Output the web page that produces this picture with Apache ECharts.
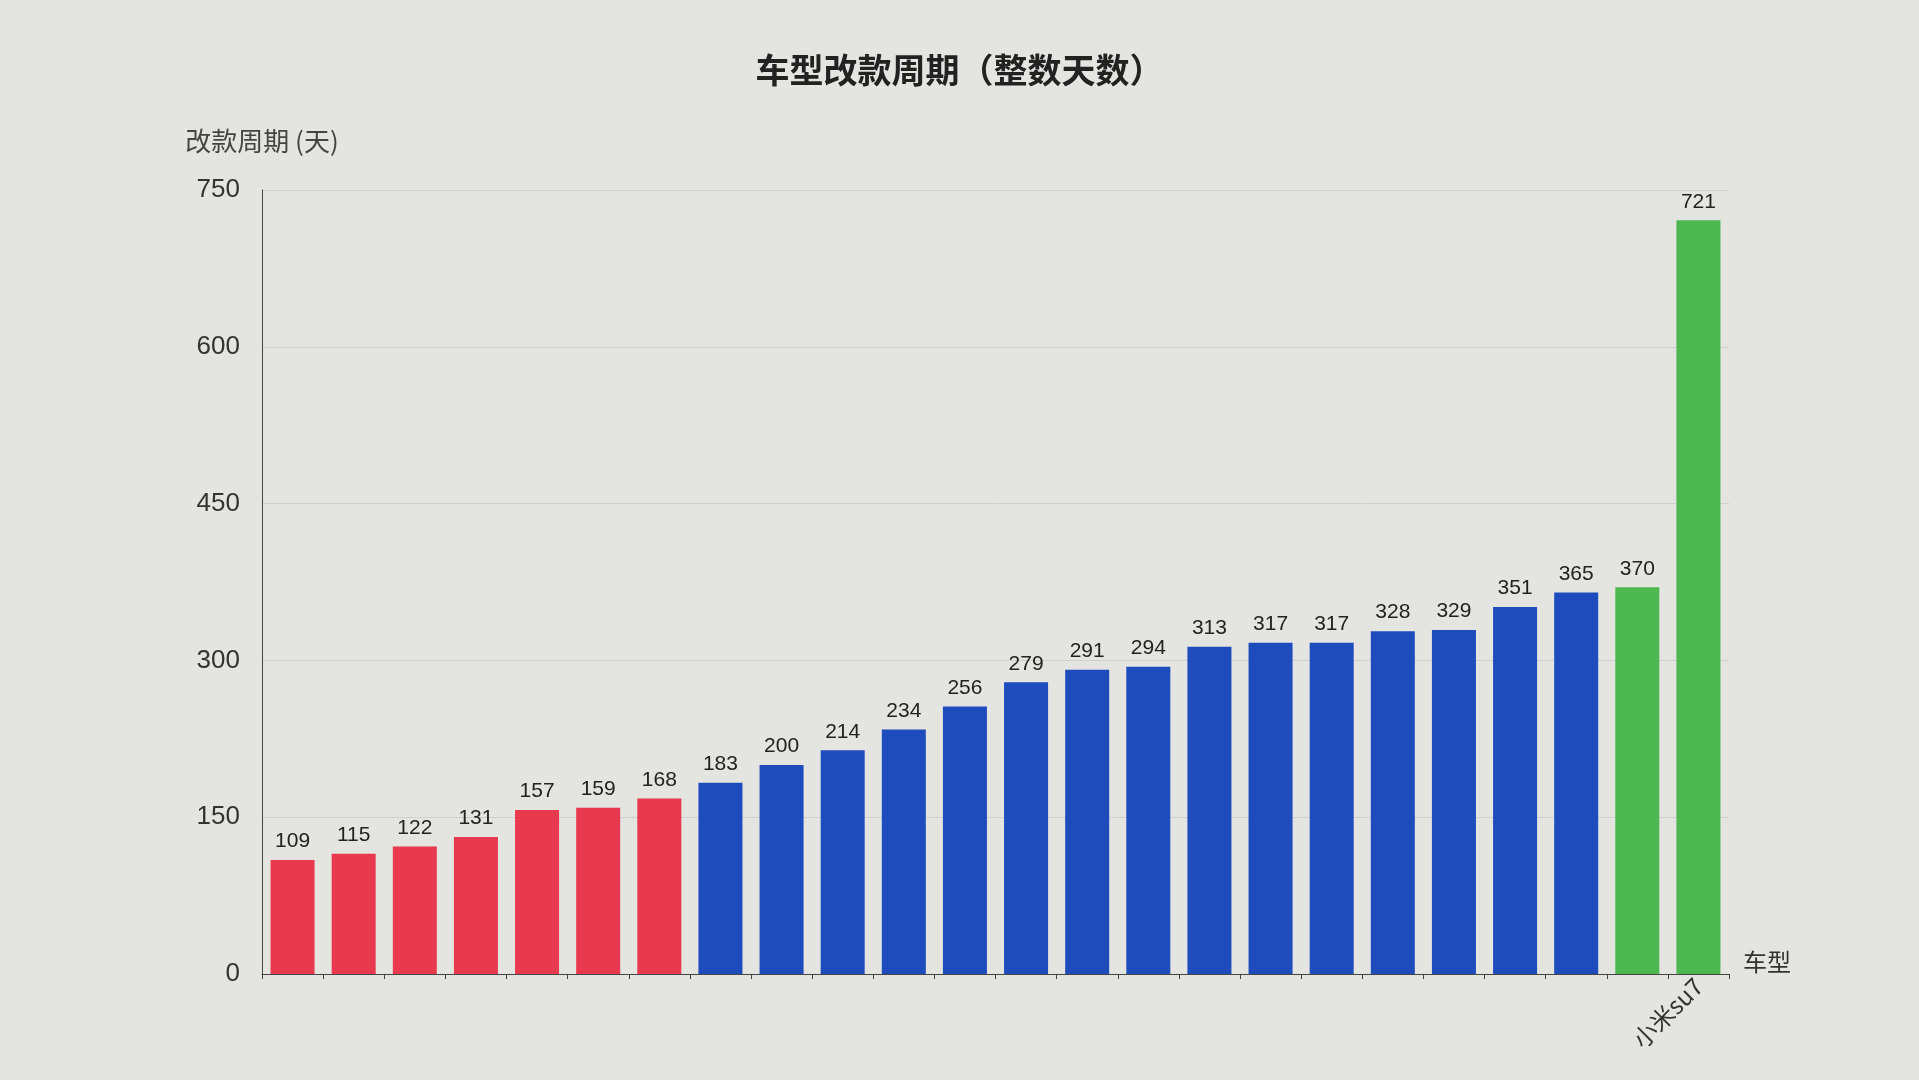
<!DOCTYPE html>
<html><head><meta charset="utf-8">
<script src="https://cdn.jsdelivr.net/npm/echarts@6/dist/echarts.min.js"></script>
<style>html,body{margin:0;background:#e4e4e1}#c{width:1919px;height:1080px}</style>
</head><body><div id="c"></div>
<script>
const vals = [109,115,122,131,157,159,168,183,200,214,234,256,279,291,294,313,317,317,328,329,351,365,370,721];
const groups = ['r','r','r','r','r','r','r','b','b','b','b','b','b','b','b','b','b','b','b','b','b','b','g','g'];
const cats = ['','','','','','','','','','','','','','','','','','','','','','','','小米su7'];
const colors = {r:'#e8394f', b:'#1f4cbd', g:'#4cb84f'};
const chart = echarts.init(document.getElementById('c'));
chart.setOption({
  backgroundColor:'#e4e4e1',
  title:{text:'车型改款周期（整数天数）',left:'center',top:48,textStyle:{fontSize:34,fontWeight:'bold',color:'#222',fontFamily:'Noto Sans CJK SC'}},
  grid:{left:262,right:190,top:190,bottom:106,containLabel:false},
  xAxis:{type:'category',data:cats,name:'车型',nameGap:14,nameTextStyle:{fontSize:24,color:'#333',fontFamily:'Noto Sans CJK SC',verticalAlign:'bottom'},
    axisLine:{lineStyle:{color:'#444'}},axisTick:{show:true,lineStyle:{color:'#444'}},
    axisLabel:{interval:0,rotate:45,fontSize:24,color:'#333',fontFamily:'Noto Sans CJK SC'}},
  yAxis:{type:'value',min:0,max:750,interval:150,name:'改款周期 (天)',nameGap:36,
    nameTextStyle:{fontSize:26,color:'#444',fontFamily:'Noto Sans CJK SC',align:'center'},
    axisLine:{show:true,lineStyle:{color:'#444'}},splitLine:{lineStyle:{color:'#cfcfcf'}},
    axisLabel:{fontSize:26,color:'#333',margin:22}},
  series:[{type:'bar',barCategoryGap:'28%',
    data:vals.map((v,i)=>({value:v,itemStyle:{color:colors[groups[i]]}})),
    label:{show:true,position:'top',fontSize:21,color:'#222',distance:8}}]
});
</script></body></html>
